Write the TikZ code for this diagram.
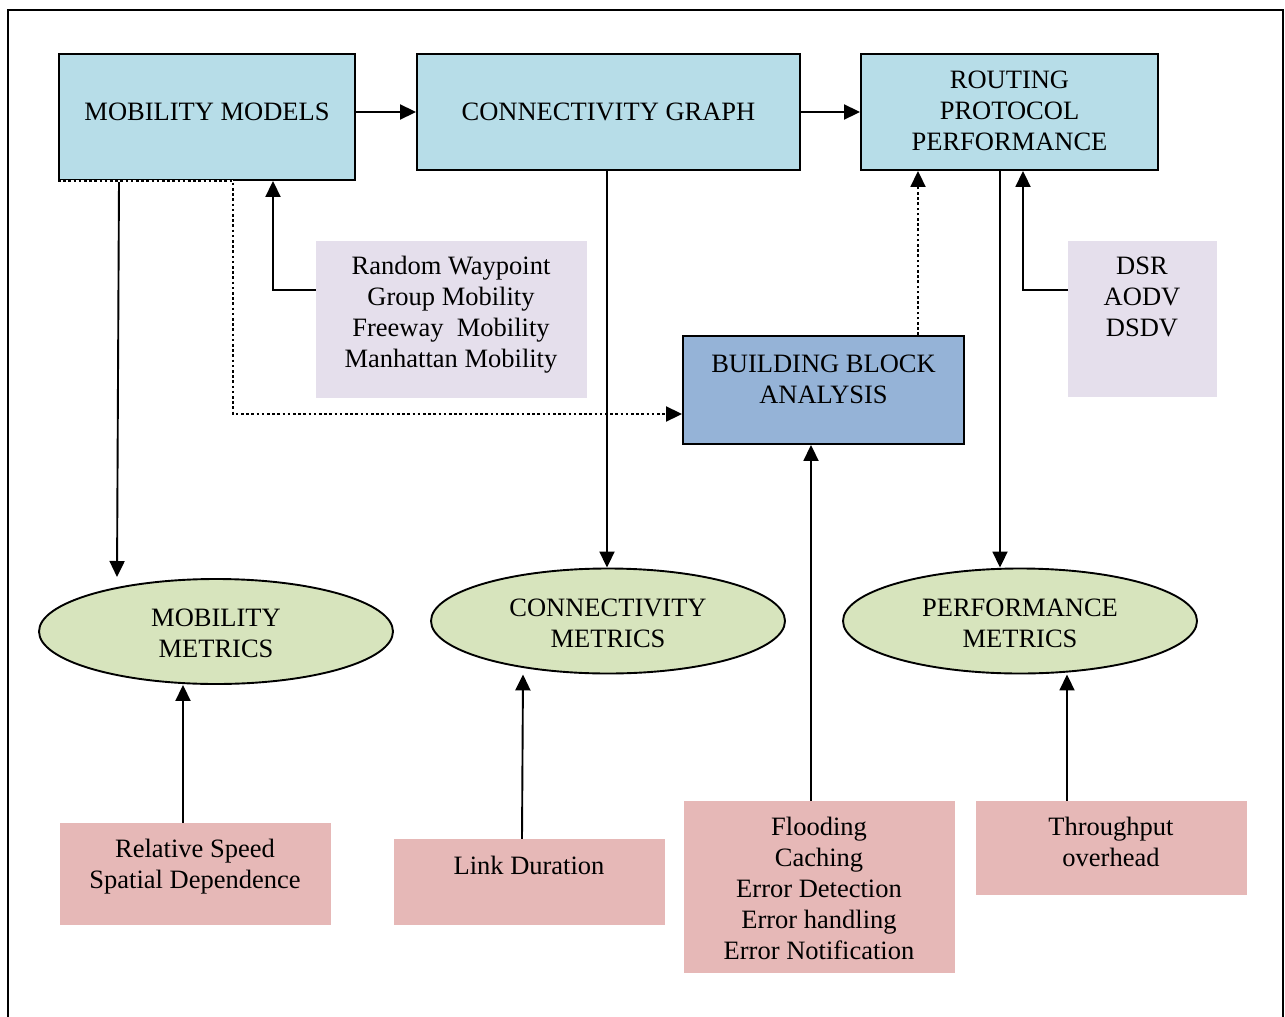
\documentclass[tikz,border=0pt]{standalone}
\usepackage{fontspec}
\setmainfont{Liberation Serif}
\usetikzlibrary{arrows.meta,shapes.geometric}
\definecolor{boxblue}{HTML}{B7DDE8}
\definecolor{boxlilac}{HTML}{E5DFEC}
\definecolor{boxsteel}{HTML}{95B3D7}
\definecolor{boxgreen}{HTML}{D7E4BD}
\definecolor{boxpink}{HTML}{E6B8B7}
\tikzset{
  lbl/.style={font=\fontsize{26.5}{31}\selectfont, align=center, inner sep=0pt},
  mainbox/.style={draw, line width=1.9pt, inner sep=0pt, fill=#1},
  plainbox/.style={inner sep=0pt, fill=#1},
  metric/.style={ellipse, draw, line width=1.9pt, inner sep=0pt, fill=boxgreen,
    minimum width=354pt, minimum height=105pt},
  arr/.style={line width=1.9pt, -{Triangle[length=16pt,width=15pt]}},
  dotline/.style={line width=2.6pt, dash pattern=on 2.6pt off 2.6pt},
}
\begin{document}
\begin{tikzpicture}[x=1pt,y=-1pt]
\useasboundingbox (0,0) rectangle (1285,1017);
% outer frame
\draw[line width=2pt] (8,1040) -- (8,10) -- (1283,10) -- (1283,1040);

% top row
\node[mainbox=boxblue, minimum width=296pt, minimum height=126pt] (mm) at (207,117) {};
\node[lbl] at (207,112) {MOBILITY MODELS};
\node[mainbox=boxblue, minimum width=383pt, minimum height=116pt] (cg) at (608.5,112) {};
\node[lbl] at (608.5,112) {CONNECTIVITY GRAPH};
\node[mainbox=boxblue, minimum width=297pt, minimum height=116pt] (rpp) at (1009.5,112) {};
\node[lbl] at (1009.5,111) {ROUTING\\PROTOCOL\\PERFORMANCE};

% model and protocol lists
\node[plainbox=boxlilac, minimum width=271pt, minimum height=157pt] (rw) at (451.5,319) {};
\node[lbl] at (451,315) {Random Waypoint\\Group Mobility\\Freeway\ \ Mobility\\Manhattan Mobility};
\node[plainbox=boxlilac, minimum width=149pt, minimum height=156pt] (dsr) at (1142.5,319) {};
\node[lbl] at (1142,297) {DSR\\AODV\\DSDV};

% building block analysis
\node[mainbox=boxsteel, minimum width=281pt, minimum height=108pt] (bba) at (823.5,390) {};
\node[lbl] at (823.5,379) {BUILDING BLOCK\\ANALYSIS};

% metrics
\node[metric] (mmet) at (216,631.5) {};
\node[lbl] at (216,633) {MOBILITY\\METRICS};
\node[metric] (cm) at (608,621) {};
\node[lbl] at (608,623) {CONNECTIVITY\\METRICS};
\node[metric] (pm) at (1020,621) {};
\node[lbl] at (1020,623) {PERFORMANCE\\METRICS};

% metric inputs
\node[plainbox=boxpink, minimum width=271pt, minimum height=102pt] (rs) at (195.5,874) {};
\node[lbl] at (195,867) {Relative Speed\\Spatial Dependence};
\node[plainbox=boxpink, minimum width=271pt, minimum height=86pt] (ld) at (529.5,882) {};
\node[lbl] at (529,865) {Link Duration};
\node[plainbox=boxpink, minimum width=271pt, minimum height=172pt] (fl) at (819.5,887) {};
\node[lbl] at (819,888) {Flooding\\Caching\\Error Detection\\Error handling\\Error Notification};
\node[plainbox=boxpink, minimum width=271pt, minimum height=94pt] (tp) at (1111.5,848) {};
\node[lbl] at (1111,842) {Throughput\\overhead};

% connectors
\draw[arr] (cg.west -| mm.east) -- (cg.west);
\draw[arr] (cg.east) -- (rpp.west);
\coordinate (mmend) at (117,577);
\draw[arr] (mm.south west -| 119,0) -- (mmend);
\draw[white, line width=2.4pt] (mm.south west) -- (mm.south west -| 233,0);
\draw[dotline, arr] (mm.south west) -- (mm.south west -| 233,0) |- (bba.west |- 0,414);
\draw[arr] (rw.west |- 0,290) -| (mm.south west -| 273,0);
\draw[arr] (cg.south -| 607,0) -- (cm.north -| 607,0);
\draw[dotline, arr] (bba.north -| 918,0) -- (rpp.south -| 918,0);
\draw[arr] (rpp.south -| 1000,0) -- (1000,0 |- pm.north);
\draw[arr] (dsr.west |- 0,290) -| (rpp.south -| 1023,0);
\draw[arr] (rs.north -| 183,0) -- (183,0 |- mmet.south);
\draw[arr] (ld.north -| 522,0) -- (523,0 |- cm.south);
\draw[arr] (fl.north -| 811,0) -- (811,0 |- bba.south);
\draw[arr] (tp.north -| 1067,0) -- (1067,0 |- pm.south);
\end{tikzpicture}
\end{document}
